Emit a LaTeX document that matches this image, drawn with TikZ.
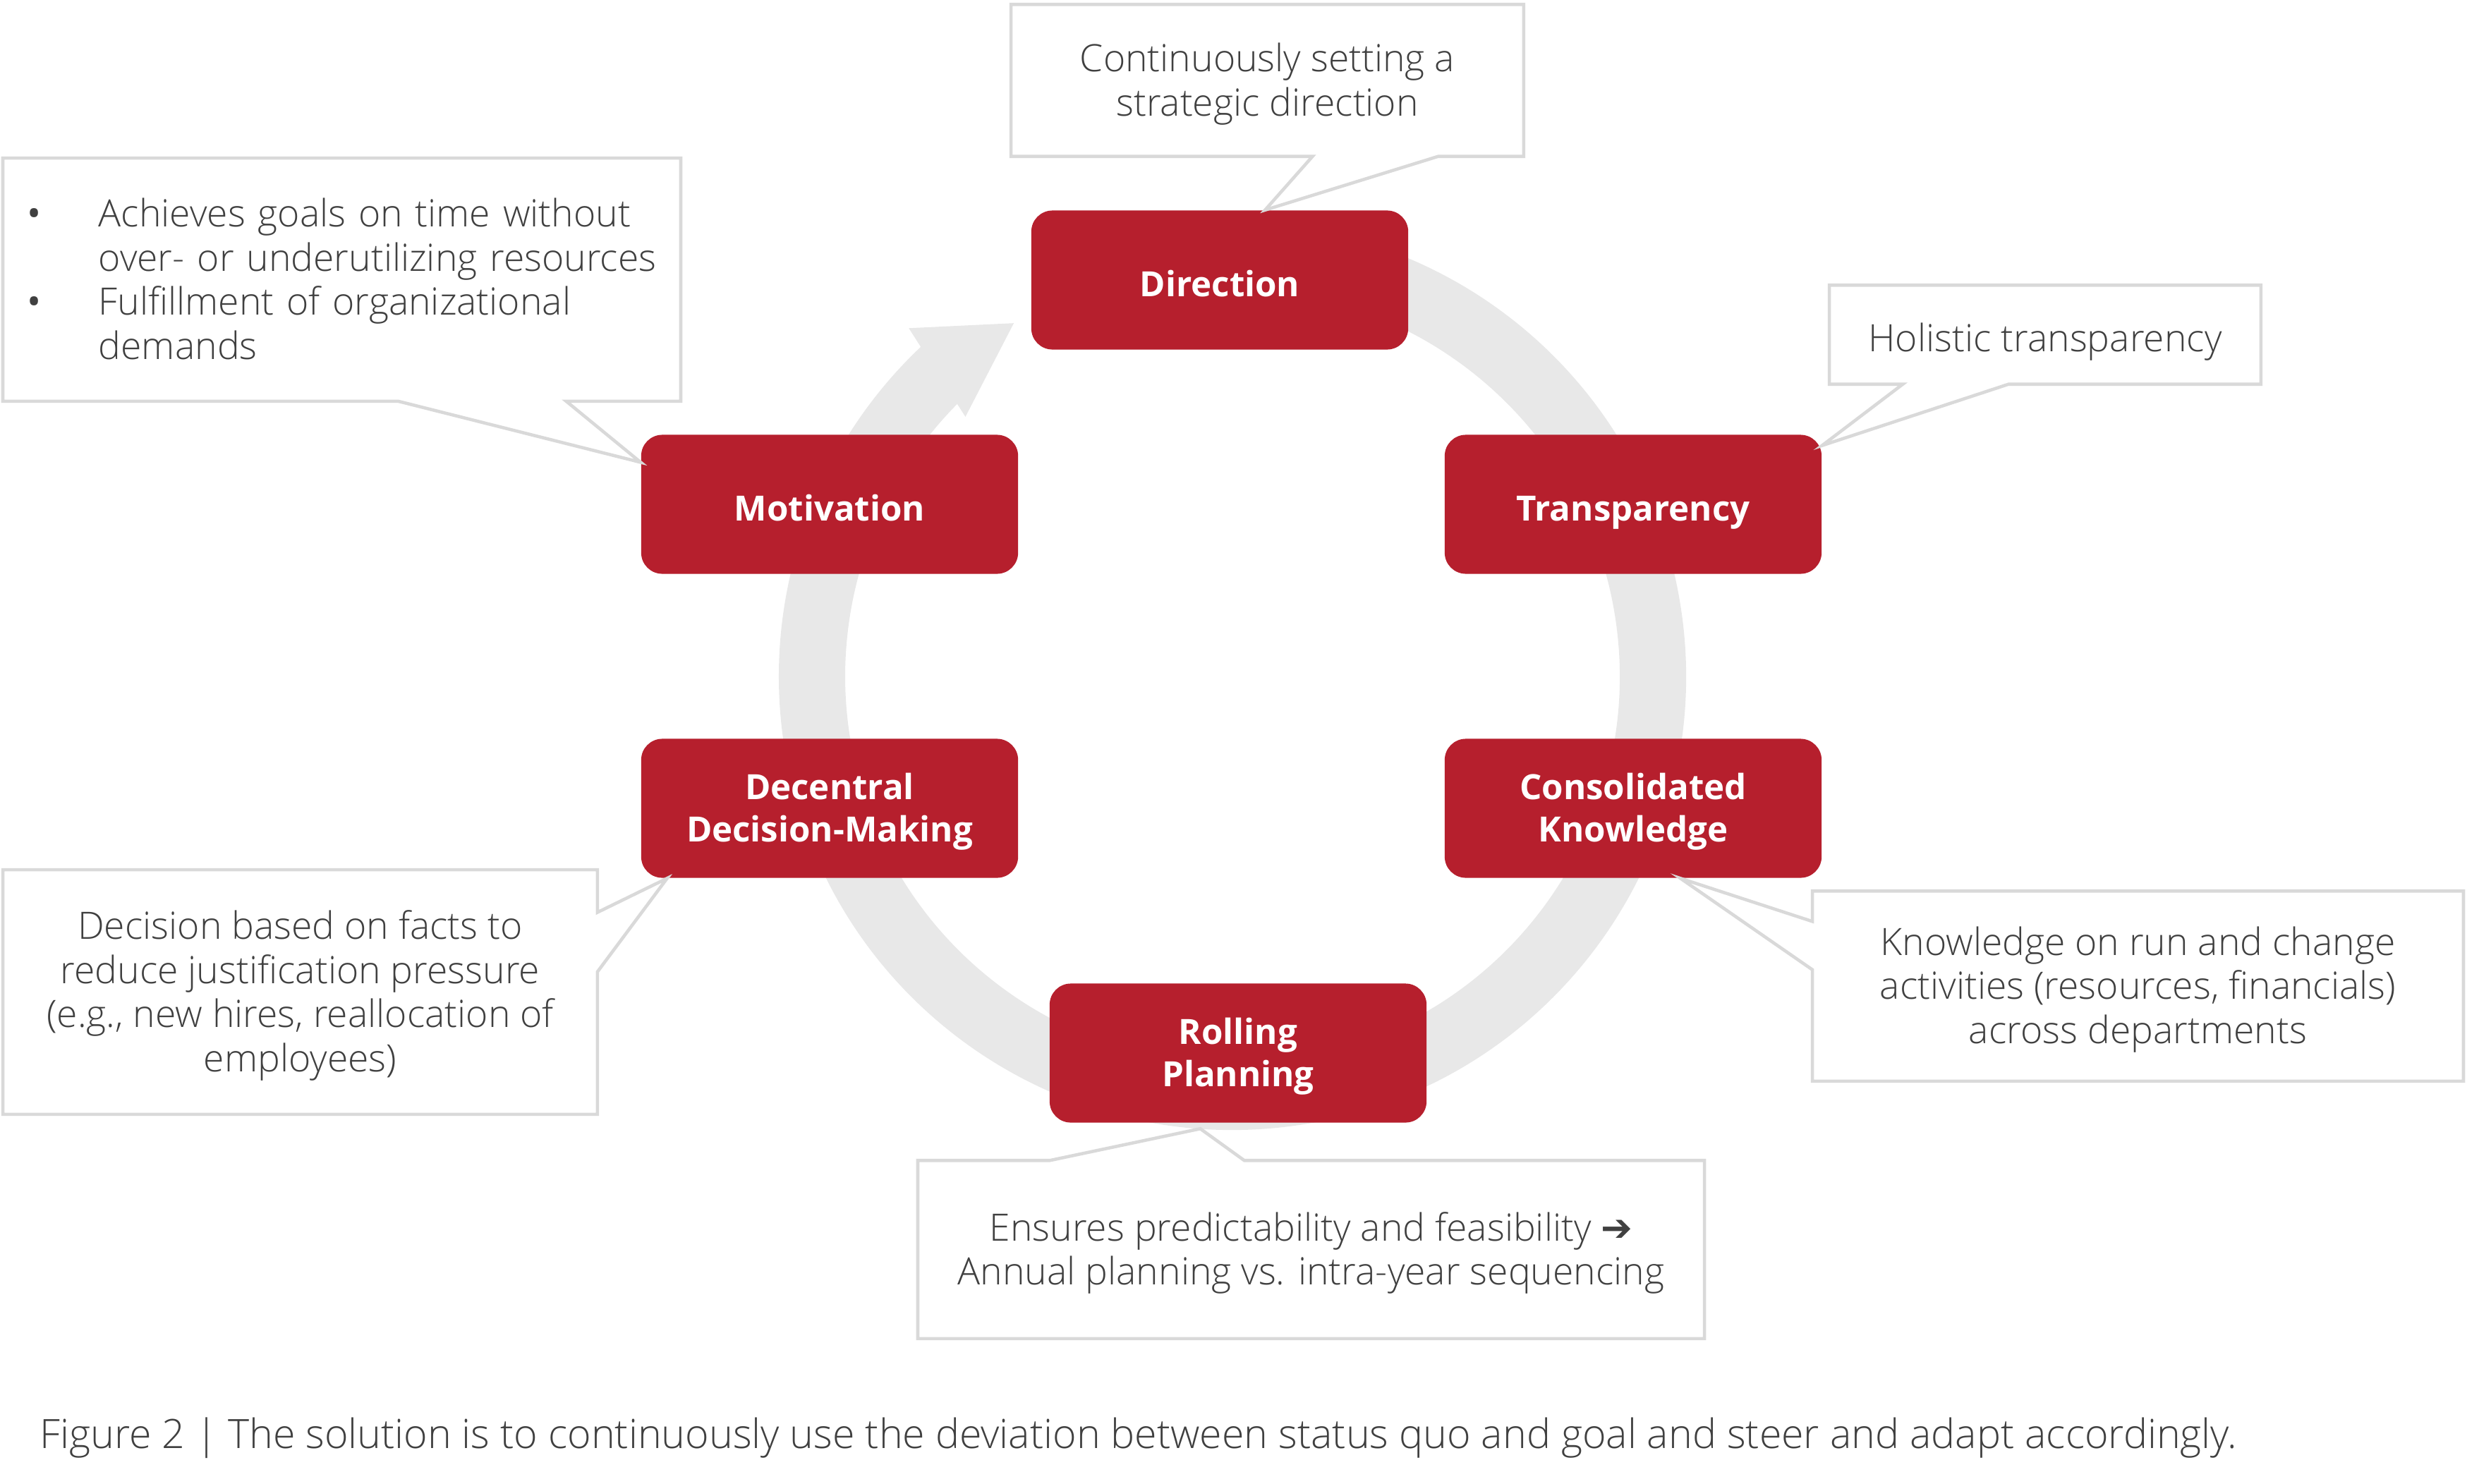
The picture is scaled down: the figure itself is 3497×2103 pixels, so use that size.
\documentclass[tikz,border=0pt]{standalone}
\usepackage{fontspec}
\setmainfont{Open Sans}
\newfontfamily\lightfont{Open Sans Light}
\newfontfamily\symfont{DejaVu Sans}
\usepackage{xcolor}
\usepackage{tikz}
\usetikzlibrary{calc}
\usetikzlibrary{positioning}
\definecolor{ddred}{RGB}{182,31,45}
\definecolor{ringgray}{RGB}{232,232,232}
\definecolor{linegray}{RGB}{217,217,217}
\definecolor{txtgray}{RGB}{64,64,64}
\newcommand{\topstrut}[1]{\rule[-0.293em]{0pt}{#1}}
\newcommand{\botstrut}{\rule[-0.293em]{0pt}{0.293em}}
\newcommand{\lift}{\rule{0pt}{1em}}
\newcommand{\bul}{{\rmfamily\textbullet}}
\tikzstyle{stage} = [rectangle, rounded corners = 0.3cm, fill = ddred, text = white, font = {\fontsize{14}{17}\selectfont\bfseries}, minimum width = 5.34cm, minimum height = 1.97cm, align = center, inner sep = 0, execute at begin node = {\topstrut{1.55em}}, execute at end node = \botstrut]
\tikzstyle{note} = [rectangle, inner sep = 0, text = txtgray, font = {\lightfont\fontsize{15.2}{17.8}\selectfont}, align = center, execute at begin node = {\topstrut{1.47em}}, execute at end node = \botstrut]
\tikzstyle{bubble} = [draw = linegray, line width = 1.3pt]
\tikzstyle{ring} = [draw = ringgray, line width = 0.94cm]

\begin{document}
\begin{tikzpicture}[x = 0.01cm, y = -0.01cm]
\useasboundingbox (0, 0) rectangle (3497, 2103);
\coordinate (ctr) at (1747, 959);
\draw [ring] ($(ctr)+(-100:596)$) arc [start angle = -100, end angle = 227, radius = 596];
\fill [ringgray] ($(ctr)+(-121.75:589)$) -- ($(ctr)+(-132.9:674)$) -- ($(ctr)+(-135.8:528)$) -- cycle;

\node [stage] (dir) at (1729, 397) {Direction};
\node [stage] (mot) at (1176, 715) {Motivation};
\node [stage] (tra) at (2315, 715) {Transparency};
\node [stage] (dec) at (1176, 1146) {\lift Decentral\\Decision-Making};
\node [stage] (con) at (2315, 1146) {\lift Consolidated\\Knowledge};
\node [stage] (rol) at (1755, 1493) {\lift Rolling\\Planning};

\node [note, minimum width = 7.25cm, minimum height = 2.14cm] (ndir) at (1796.5, 114) {\lift Continuously setting a\\strategic direction};
\node [note, align = left, text width = 9.19cm, inner xsep = 0.2cm, minimum height = 3.43cm, execute at end node = {\botstrut\par\vspace*{2.6pt}}] (nmot) at (484.5, 396.5) {\hspace*{0.14cm}\makebox[1.01cm][l]{\bul}Achieves goals on time without\\\hspace*{1.15cm}over- or underutilizing resources\\\hspace*{0.14cm}\makebox[1.01cm][l]{\bul}Fulfillment of organizational\\\hspace*{1.15cm}demands};
\node [note, minimum width = 6.10cm, minimum height = 1.39cm] (ntra) at (2899, 474.5) {Holistic transparency};
\node [note, minimum width = 8.41cm, minimum height = 3.45cm] (ndec) at (425.5, 1406.5) {\lift Decision based on facts to\\reduce justification pressure\\(e.g., new hires, reallocation of\\employees)};
\node [note, minimum width = 9.21cm, minimum height = 2.68cm] (ncon) at (3030.5, 1398) {\lift Knowledge on run and change\\activities (resources, financials)\\across departments};
\node [note, minimum width = 11.13cm, minimum height = 2.51cm] (nrol) at (1858.5, 1771.5) {\lift Ensures predictability and feasibility {\symfont\bfseries ➔}\\Annual planning vs. intra-year sequencing};
\node [note, anchor = west, font = {\lightfont\fontsize{16.3}{19.5}\selectfont}] (cap) at (56, 2028) {Figure 2 | The solution is to continuously use the deviation between status quo and goal and steer and adapt accordingly.};

\draw [bubble] (ndir.south west) -- (ndir.north west) -- (ndir.north east) -- (ndir.south east) -- ($(ndir.south west)!0.833!(ndir.south east)$) -- ($(dir.north west)!0.62!(dir.north east)$) -- ($(ndir.south west)!0.588!(ndir.south east)$) -- cycle;
\draw [bubble] (nmot.south west) -- (nmot.north west) -- (nmot.north east) -- (nmot.south east) -- ($(nmot.south west)!0.831!(nmot.south east)$) -- ($(mot.north west)!0.2!(mot.south west)$) -- ($(nmot.south west)!0.583!(nmot.south east)$) -- cycle;
\draw [bubble] (ntra.south west) -- (ntra.north west) -- (ntra.north east) -- (ntra.south east) -- ($(ntra.south west)!0.415!(ntra.south east)$) -- ($(tra.north east)!0.08!(tra.south east)$) -- ($(ntra.south west)!0.17!(ntra.south east)$) -- cycle;
\draw [bubble] (ndec.south west) -- (ndec.north west) -- (ndec.north east) -- ($(ndec.north east)!0.174!(ndec.south east)$) -- ($(dec.south west)!0.07!(dec.south east)$) -- ($(ndec.north east)!0.417!(ndec.south east)$) -- (ndec.south east) -- cycle;
\draw [bubble] (ncon.north west) -- (ncon.north east) -- (ncon.south east) -- (ncon.south west) -- ($(ncon.north west)!0.414!(ncon.south west)$) -- ($(con.south west)!0.625!(con.south east)$) -- ($(ncon.north west)!0.16!(ncon.south west)$) -- cycle;
\draw [bubble] (nrol.north west) -- ($(nrol.north west)!0.168!(nrol.north east)$) -- ($(rol.south west)!0.4!(rol.south east)+(0,8)$) -- ($(nrol.north west)!0.415!(nrol.north east)$) -- (nrol.north east) -- (nrol.south east) -- (nrol.south west) -- cycle;
\end{tikzpicture}
\end{document}
